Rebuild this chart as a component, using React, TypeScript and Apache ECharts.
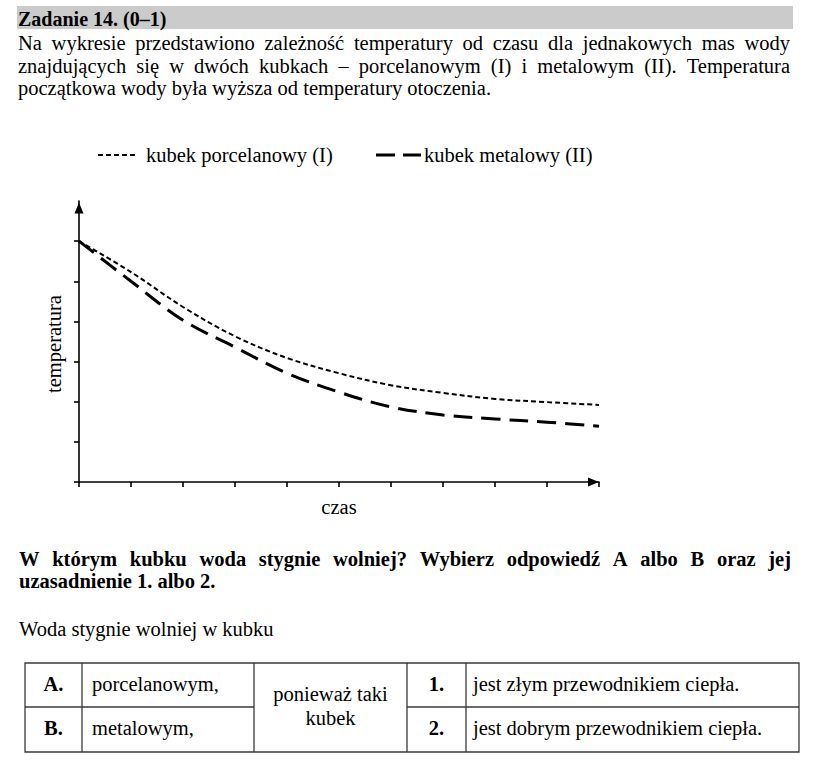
import React, { useEffect, useRef } from "react";
import * as echarts from "echarts";

// ---- data ----
const timeValues = [0, 1, 2, 3, 4, 5, 6, 7, 8, 9, 10];
const porcelainTemps = [6.0, 5.23, 4.36, 3.63, 3.09, 2.71, 2.41, 2.22, 2.07, 1.99, 1.92];
const metalTemps = [6.0, 5.0, 4.03, 3.36, 2.71, 2.24, 1.87, 1.67, 1.57, 1.49, 1.39];
const seriesNames = ["kubek porcelanowy (I)", "kubek metalowy (II)"];
const yTickValues = [0, 1, 2, 3, 4, 5, 6];
const xAxisName = "czas";
const yAxisName = "temperatura";

const headerTitle = "Zadanie 14. (0–1)";
const introLines = [
  "Na wykresie przedstawiono zależność temperatury od czasu dla jednakowych mas wody",
  "znajdujących się w dwóch kubkach – porcelanowym (I) i metalowym (II). Temperatura",
  "początkowa wody była wyższa od temperatury otoczenia.",
];
const questionLines = [
  "W którym kubku woda stygnie wolniej? Wybierz odpowiedź A albo B oraz jej",
  "uzasadnienie 1. albo 2.",
];
const answerLead = "Woda stygnie wolniej w kubku";
const tableLetters = ["A.", "B."];
const tableCups = ["porcelanowym,", "metalowym,"];
const tableMiddle = ["ponieważ taki", "kubek"];
const tableNumbers = ["1.", "2."];
const tableReasons = ["jest złym przewodnikiem ciepła.", "jest dobrym przewodnikiem ciepła."];

const SERIF = "Liberation Serif";
const FS = 20.5;
const MID = 0.3375; // central baseline offset (em)

let ctx: CanvasRenderingContext2D | null = null;
function measure(text: string, bold: boolean, size = FS) {
  if (!ctx) ctx = document.createElement("canvas").getContext("2d");
  ctx!.font = `${bold ? "bold " : ""}${size}px "Liberation Serif"`;
  return ctx!.measureText(text).width;
}

function textEl(text: string, x: number, baseline: number, opts: any = {}) {
  const size = opts.size || FS;
  return {
    type: "text",
    x,
    y: baseline - MID * size,
    style: {
      text,
      fill: "#000",
      fontSize: size,
      fontFamily: SERIF,
      fontWeight: opts.bold ? "bold" : "normal",
      align: opts.align || "left",
      verticalAlign: "middle",
    },
  };
}

function justified(text: string, x0: number, x1: number, baseline: number, bold: boolean) {
  const words = text.split(" ");
  const widths = words.map((w) => measure(w, bold));
  const sum = widths.reduce((a, b) => a + b, 0);
  const gap = (x1 - x0 - sum) / (words.length - 1);
  const out: any[] = [];
  let x = x0;
  words.forEach((w, i) => {
    out.push(textEl(w, x, baseline, { bold }));
    x += widths[i] + gap;
  });
  return out;
}

function buildOption() {
  const g: any[] = [];
  // header bar
  g.push({ type: "rect", shape: { x: 17, y: 6, width: 776, height: 23 }, style: { fill: "#cbcbcb" } });
  g.push(textEl(headerTitle, 18, 26, { bold: true, size: 20 }));
  // intro
  g.push(...justified(introLines[0], 18, 790, 50, false));
  g.push(...justified(introLines[1], 18, 790, 72.5, false));
  g.push(textEl(introLines[2], 18, 95));
  // legend
  g.push({ type: "line", shape: { x1: 98, y1: 155, x2: 138, y2: 155 }, style: { stroke: "#000", lineWidth: 2, lineDash: [5, 3] } });
  g.push(textEl(seriesNames[0], 146, 162));
  g.push({ type: "line", shape: { x1: 376, y1: 155, x2: 421, y2: 155 }, style: { stroke: "#000", lineWidth: 3, lineDash: [19, 8] } });
  g.push(textEl(seriesNames[1], 424, 162));
  // y axis name
  g.push({
    type: "text",
    x: 54,
    y: 344,
    rotation: Math.PI / 2,
    style: { text: yAxisName, fill: "#000", fontSize: FS, fontFamily: SERIF, align: "center", verticalAlign: "middle" },
  });
  // question
  g.push(...justified(questionLines[0], 19, 791, 566, true));
  g.push(textEl(questionLines[1], 19, 588, { bold: true }));
  g.push(textEl(answerLead, 19, 636));
  // table
  const T = { l: 25, r: 799, t: 663, m: 707, b: 752 };
  const cols = [82, 254, 407, 466];
  const border = { stroke: "#3a3a3a", lineWidth: 1.3 };
  g.push({ type: "rect", shape: { x: T.l, y: T.t, width: T.r - T.l, height: T.b - T.t }, style: { ...border, fill: "none" } });
  cols.forEach((c) => g.push({ type: "line", shape: { x1: c, y1: T.t, x2: c, y2: T.b }, style: border }));
  g.push({ type: "line", shape: { x1: T.l, y1: T.m, x2: cols[1], y2: T.m }, style: border });
  g.push({ type: "line", shape: { x1: cols[2], y1: T.m, x2: T.r, y2: T.m }, style: border });
  const rowBase = [691, 735];
  tableLetters.forEach((t, i) => g.push(textEl(t, (T.l + cols[0]) / 2, rowBase[i], { bold: true, align: "center" })));
  tableCups.forEach((t, i) => g.push(textEl(t, 92, rowBase[i])));
  tableMiddle.forEach((t, i) => g.push(textEl(t, (cols[1] + cols[2]) / 2, [701, 725][i], { align: "center" })));
  tableNumbers.forEach((t, i) => g.push(textEl(t, (cols[2] + cols[3]) / 2, rowBase[i], { bold: true, align: "center" })));
  tableReasons.forEach((t, i) => g.push(textEl(t, 473, rowBase[i])));

  const axisLineStyle = { color: "#000", width: 1.6 };
  return {
    animation: false,
    backgroundColor: "#fff",
    grid: { left: 79, right: 241, top: 201, bottom: 294 },
    xAxis: {
      type: "value",
      min: 0,
      max: 10,
      interval: 1,
      name: xAxisName,
      nameLocation: "middle",
      nameGap: 14,
      nameTextStyle: { color: "#000", fontSize: FS, fontFamily: SERIF },
      axisLine: { show: true, symbol: ["none", "triangle"], symbolSize: [9, 11], symbolOffset: [0, -5.5], lineStyle: axisLineStyle },
      axisTick: { show: true, length: 5, lineStyle: axisLineStyle },
      axisLabel: { show: false },
      splitLine: { show: false },
    },
    yAxis: {
      type: "value",
      min: 0,
      max: 7,
      interval: 1,
      axisLine: { show: true, symbol: ["none", "triangle"], symbolSize: [9, 11], symbolOffset: [0, -7], lineStyle: axisLineStyle },
      axisTick: { show: true, length: 5, lineStyle: axisLineStyle, customValues: yTickValues },
      axisLabel: { show: false },
      splitLine: { show: false },
    },
    series: [
      {
        name: seriesNames[0],
        type: "line",
        data: timeValues.map((t, i) => [t, porcelainTemps[i]]),
        smooth: 0.35,
        showSymbol: false,
        lineStyle: { color: "#000", width: 2, type: [5, 3] },
      },
      {
        name: seriesNames[1],
        type: "line",
        data: timeValues.map((t, i) => [t, metalTemps[i]]),
        smooth: 0.35,
        showSymbol: false,
        lineStyle: { color: "#000", width: 3, type: [19, 9] },
      },
    ],
    graphic: g,
  };
}

export default function App() {
  const ref = useRef<HTMLDivElement>(null);
  useEffect(() => {
    const chart = echarts.init(ref.current!, null, { renderer: "svg" });
    chart.setOption(buildOption() as any);
    return () => chart.dispose();
  }, []);
  return (
    <div
      ref={ref}
      style={{ position: "absolute", left: 0, top: 0, width: 840, height: 776, background: "#fff" }}
    />
  );
}
